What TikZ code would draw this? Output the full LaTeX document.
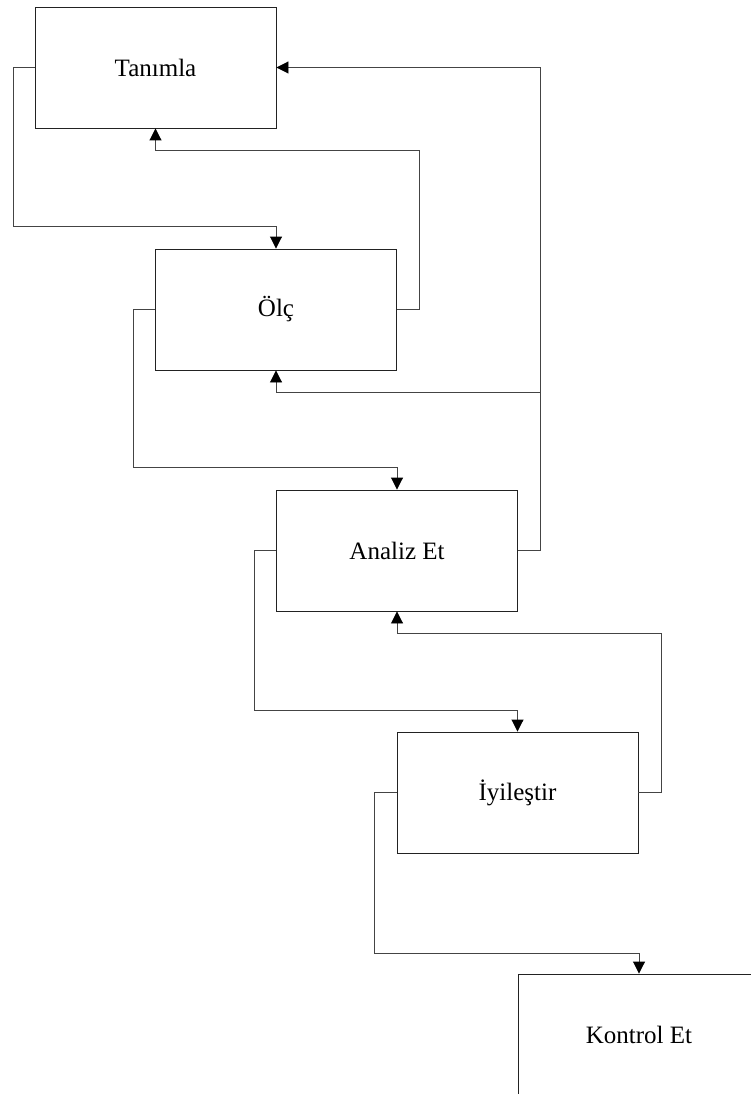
\documentclass[tikz,border=0pt]{standalone}
\usepackage{fontspec}
\setmainfont{Liberation Serif}
\usepackage{tikz}
\usetikzlibrary{arrows.meta}
\usepackage{xcolor}
\definecolor{BoxLine}{HTML}{222222}
\definecolor{FlowLine}{HTML}{444444}
\tikzset{
  stepbox/.style={draw=BoxLine,line width=0.9pt,minimum width=241pt,minimum height=121pt,inner sep=0pt,font=\fontsize{25}{30}\selectfont},
  flow/.style={-{Triangle[length=12pt,width=12pt,color=black]},line width=0.9pt,draw=FlowLine}
}

\begin{document}
\begin{tikzpicture}[x=1pt,y=-1pt]
\clip (0,0) rectangle (751,1094);
\node[stepbox] (tanimla) at (155.5,67.5) {Tanımla};
\node[stepbox] (olc) at (276,309.5) {Ölç};
\node[stepbox] (analiz) at (397,550.5) {Analiz Et};
\node[stepbox] (iyilestir) at (517.5,792.5) {İyileştir};
\node[stepbox] (kontrol) at (639,1034.5) {Kontrol Et};
\coordinate (tap) at (540,392);
\draw[flow] (tanimla.west) -| (13,226) -| (olc.north);
\draw[flow] (olc.east) -| (419,150) -| (tanimla.south);
\draw[flow] (olc.west) -| (133,467) -| (analiz.north);
\draw[flow] (analiz.east) -- ++(22,0) |- (tanimla.east);
\draw[flow] (tap) -| (olc.south);
\draw[flow] (analiz.west) -| (254,710) -| (iyilestir.north);
\draw[flow] (iyilestir.east) -| (661,633) -| (analiz.south);
\draw[flow] (iyilestir.west) -| (374,953) -| (kontrol.north);
\end{tikzpicture}
\end{document}
